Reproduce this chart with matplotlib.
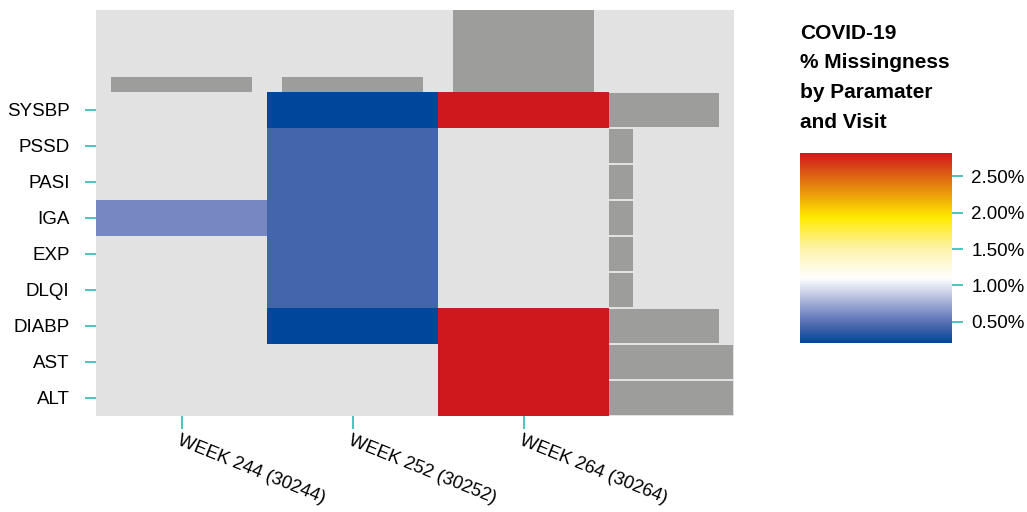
import numpy as np
import matplotlib
matplotlib.use("Agg")
import matplotlib.pyplot as plt
from matplotlib.colors import LinearSegmentedColormap

plt.rcParams['font.family'] = ['Liberation Sans', 'DejaVu Sans']

# data
visits = ['WEEK 244 (30244)', 'WEEK 252 (30252)', 'WEEK 264 (30264)']
params = ['SYSBP', 'PSSD', 'PASI', 'IGA', 'EXP', 'DLQI', 'DIABP', 'AST', 'ALT']
nan = np.nan
pct_missing = np.array([
    [nan, 0.21, 2.82],
    [nan, 0.43, nan],
    [nan, 0.43, nan],
    [0.60, 0.43, nan],
    [nan, 0.43, nan],
    [nan, 0.43, nan],
    [nan, 0.21, 2.82],
    [nan, nan, 2.82],
    [nan, nan, 2.82],
])
visit_totals = [1, 1, 6]
param_totals = [4.6, 1.0, 1.0, 1.0, 1.0, 1.0, 4.6, 6.0, 6.0]
cbar_ticks = [0.5, 1.0, 1.5, 2.0, 2.5]

BG = '#e2e2e2'
BAR = '#9d9d9b'
TEAL = '#2bbab3'

cmap = LinearSegmentedColormap.from_list('miss', [
    (0.0, '#00479b'),
    (0.085, '#4666ab'),
    (0.15, '#7788c3'),
    (0.34, '#ffffff'),
    (0.50, '#fdf3a8'),
    (0.66, '#ffea00'),
    (0.83, '#e4820e'),
    (1.0, '#cf181d'),
])
cmap.set_bad((0, 0, 0, 0))

W, H = 1027, 512
fig = plt.figure(figsize=(W / 100, H / 100), dpi=100)

def box(x0, y0, x1, y1):
    return [x0 / W, 1 - y1 / H, (x1 - x0) / W, (y1 - y0) / H]

bg = fig.add_axes(box(96, 10, 734, 416))
bg.set_facecolor(BG)
bg.set_xticks([])
bg.set_yticks([])
for s in bg.spines.values():
    s.set_visible(False)

# heatmap
ax = fig.add_axes(box(96, 92, 609, 416))
ax.set_facecolor('none')
im = ax.imshow(np.ma.masked_invalid(pct_missing), cmap=cmap, vmin=0.21, vmax=2.82,
               aspect='auto', interpolation='nearest')
ax.set_xlim(-0.5, 2.5)
ax.set_ylim(8.5, -0.5)
ax.set_xticks(range(len(visits)))
ax.set_xticklabels(visits, rotation=-22, ha='left', va='top', rotation_mode='anchor', fontsize=13.2)
ax.set_yticks(range(len(params)))
ax.set_yticklabels(params, fontsize=13.5)
ax.tick_params(axis='y', length=8, width=1.2, color=TEAL, pad=11)
ax.tick_params(axis='x', length=9, width=1.2, color=TEAL, pad=3)
for s in ax.spines.values():
    s.set_visible(False)

# top marginal bars
axt = fig.add_axes(box(96, 10, 609, 92))
axt.set_facecolor('none')
axt.bar(range(len(visits)), visit_totals, width=0.82, color=BAR)
axt.set_xlim(-0.5, 2.5)
axt.set_ylim(0, 5.45)
axt.axis('off')

# right marginal bars
axr = fig.add_axes(box(609, 92, 733, 416))
axr.set_facecolor('none')
axr.barh(range(len(params)), param_totals, height=0.92, color=BAR)
axr.set_ylim(8.5, -0.5)
axr.set_xlim(0, 5.17)
axr.axis('off')

# colorbar
cax = fig.add_axes(box(800, 153, 952, 343))
cb = fig.colorbar(im, cax=cax)
cb.outline.set_visible(False)
cb.set_ticks(cbar_ticks)
cb.set_ticklabels([f'{t:.2f}%' for t in cbar_ticks])
cax.tick_params(length=8, width=1.2, color=TEAL, labelsize=13.5, pad=6)

fig.text(800 / W, 1 - 24 / H, 'COVID-19\n% Missingness\nby Paramater\nand Visit',
         fontsize=15, fontweight='bold', va='top', ha='left', linespacing=1.7)

fig.savefig('out.png', dpi=100)
